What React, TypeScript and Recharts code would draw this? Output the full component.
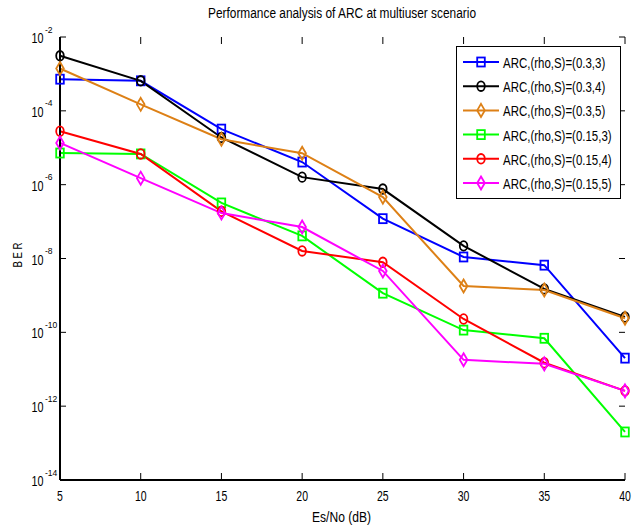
import React from 'react';
import { LineChart, Line, XAxis, YAxis, Legend } from 'recharts';

// ---------- data ----------
const snrDb = [5, 10, 15, 20, 25, 30, 35, 40];
const arc03_3 = [7.2e-4, 6.5e-4, 3.2e-5, 4.1e-6, 1.2e-7, 1.1e-8, 6.6e-9, 2.0e-11];
const arc03_4 = [3.1e-3, 6.5e-4, 1.9e-5, 1.6e-6, 7.6e-7, 2.2e-8, 1.5e-9, 2.6e-10];
const arc03_5 = [1.4e-3, 1.5e-4, 1.7e-5, 7.1e-6, 4.6e-7, 1.8e-9, 1.4e-9, 2.4e-10];
const arc015_3 = [7.2e-6, 6.8e-6, 3.2e-7, 4.1e-8, 1.15e-9, 1.15e-10, 6.9e-11, 2.0e-13];
const arc015_4 = [2.8e-5, 6.8e-6, 1.9e-7, 1.6e-8, 7.9e-9, 2.3e-10, 1.5e-11, 2.6e-12];
const arc015_5 = [1.35e-5, 1.5e-6, 1.7e-7, 7.1e-8, 4.6e-9, 1.8e-11, 1.4e-11, 2.6e-12];

const xTicks = [5, 10, 15, 20, 25, 30, 35, 40];
const yTicks = [1e-14, 1e-12, 1e-10, 1e-8, 1e-6, 1e-4, 1e-2];

const seriesNames = [
  'ARC,(rho,S)=(0.3,3)',
  'ARC,(rho,S)=(0.3,4)',
  'ARC,(rho,S)=(0.3,5)',
  'ARC,(rho,S)=(0.15,3)',
  'ARC,(rho,S)=(0.15,4)',
  'ARC,(rho,S)=(0.15,5)',
];
const titleText = 'Performance analysis of ARC at multiuser scenario';
const xLabel = 'Es/No (dB)';
const yLabel = 'B E R';

// ---------- styles ----------
const FONT = '"Liberation Sans", Arial, Helvetica, sans-serif';
const W = 634;
const H = 525;
const PLOT_TOP = 37;
const PLOT_BOTTOM = 480;
const PLOT_LEFT = 60;
const PLOT_RIGHT = 625;

type Shape = 'square' | 'circle' | 'diamond';
const series: { key: string; name: string; color: string; shape: Shape; values: number[] }[] = [
  { key: 's1', name: seriesNames[0], color: '#0000ff', shape: 'square', values: arc03_3 },
  { key: 's2', name: seriesNames[1], color: '#000000', shape: 'circle', values: arc03_4 },
  { key: 's3', name: seriesNames[2], color: '#dd8016', shape: 'diamond', values: arc03_5 },
  { key: 's4', name: seriesNames[3], color: '#00ff00', shape: 'square', values: arc015_3 },
  { key: 's5', name: seriesNames[4], color: '#ff0000', shape: 'circle', values: arc015_4 },
  { key: 's6', name: seriesNames[5], color: '#ff00ff', shape: 'diamond', values: arc015_5 },
];

const data = snrDb.map((x, i) => {
  const row: Record<string, number> = { x };
  series.forEach((s) => {
    row[s.key] = s.values[i];
  });
  return row;
});

function Marker({ cx, cy, shape, color }: { cx?: number; cy?: number; shape: Shape; color: string }) {
  if (cx == null || cy == null || isNaN(cx) || isNaN(cy)) return null;
  const sw = 1.8;
  if (shape === 'square') {
    return <rect x={cx - 3.8} y={cy - 4.5} width={7.6} height={9} fill="none" stroke={color} strokeWidth={sw} />;
  }
  if (shape === 'circle') {
    return <ellipse cx={cx} cy={cy} rx={3.8} ry={4.8} fill="none" stroke={color} strokeWidth={sw} />;
  }
  return (
    <polygon
      points={`${cx},${cy - 6.5} ${cx + 3.8},${cy} ${cx},${cy + 6.5} ${cx - 3.8},${cy}`}
      fill="none"
      stroke={color}
      strokeWidth={sw}
    />
  );
}

const XTick = (props: any) => {
  const { x, y, payload } = props;
  const label = String(payload.value);
  return (
    <g>
      <line x1={x} x2={x} y1={PLOT_BOTTOM} y2={PLOT_BOTTOM - 7} stroke="#000" strokeWidth={1} />
      <line x1={x} x2={x} y1={PLOT_TOP} y2={PLOT_TOP + 7} stroke="#000" strokeWidth={1} />
      <text
        transform={`translate(${x},${y + 21}) scale(0.7,1)`}
        textAnchor="middle"
        fontSize={15}
        fontFamily={FONT}
        fill="#000"
      >
        {label}
      </text>
    </g>
  );
};

const YTick = (props: any) => {
  const { x, y, payload } = props;
  const exp = String(Math.round(Math.log10(payload.value)));
  return (
    <g>
      <line x1={PLOT_LEFT} x2={PLOT_LEFT + 6} y1={y} y2={y} stroke="#000" strokeWidth={1} />
      <line x1={PLOT_RIGHT - 6} x2={PLOT_RIGHT} y1={y} y2={y} stroke="#000" strokeWidth={1} />
      <text
        transform={`translate(${x - 28.5},${y + 6}) scale(0.77,1)`}
        fontSize={14}
        fontFamily={FONT}
        fill="#000"
      >
        10
      </text>
      <text
        transform={`translate(${x - 15},${y - 4.5}) scale(0.95,1)`}
        fontSize={9}
        fontFamily={FONT}
        fill="#000"
      >
        {exp}
      </text>
    </g>
  );
};

const LegendContent = (props: any) => {
  const payload: any[] = props.payload || [];
  const rows = series.filter((s) => payload.length === 0 || payload.some((p) => p.dataKey === s.key));
  return (
    <svg width={170} height={153} style={{ display: 'block', overflow: 'visible' }}>
      <rect x={0.5} y={0.5} width={164} height={152} fill="#fff" stroke="#000" strokeWidth={1} />
      {rows.map((s, i) => {
        const cy = 16 + i * 24.2;
        return (
          <g key={s.key}>
            <line x1={7} x2={43} y1={cy} y2={cy} stroke={s.color} strokeWidth={2} />
            <Marker cx={25} cy={cy} shape={s.shape} color={s.color} />
            <text
              transform={`translate(47,${cy + 6}) scale(0.74,1)`}
              fontSize={15.5}
              fontFamily={FONT}
              fill="#000"
            >
              {s.name}
            </text>
          </g>
        );
      })}
    </svg>
  );
};

export default function App() {
  return (
    <div style={{ position: 'absolute', left: 0, top: 0, width: W, height: H, background: '#fff', overflow: 'hidden' }}>
      <LineChart
        width={W}
        height={H}
        data={data}
        margin={{ top: PLOT_TOP, right: W - PLOT_RIGHT, bottom: 0, left: 0 }}
      >
        <XAxis
          dataKey="x"
          type="number"
          domain={[5, 40]}
          ticks={xTicks}
          interval={0}
          height={H - PLOT_BOTTOM}
          tickSize={0}
          tickMargin={0}
          tickLine={false}
          tick={<XTick />}
          axisLine={{ stroke: '#000', strokeWidth: 2 }}
        />
        <XAxis
          xAxisId="top"
          orientation="top"
          type="number"
          domain={[5, 40]}
          height={0}
          tick={false}
          tickLine={false}
          axisLine={{ stroke: '#000', strokeWidth: 1.5 }}
        />
        <YAxis
          scale="log"
          type="number"
          domain={[1e-14, 1e-2]}
          allowDataOverflow
          ticks={yTicks}
          interval={0}
          width={PLOT_LEFT}
          tickSize={0}
          tickMargin={0}
          tickLine={false}
          tick={<YTick />}
          axisLine={{ stroke: '#000', strokeWidth: 2 }}
        />
        <YAxis
          yAxisId="right"
          orientation="right"
          type="number"
          domain={[0, 1]}
          width={0}
          tick={false}
          tickLine={false}
          axisLine={{ stroke: '#000', strokeWidth: 1.5 }}
        />
        <Legend
          layout="vertical"
          align="center"
          verticalAlign="middle"
          wrapperStyle={{ position: 'absolute', left: 456, top: 46, width: 170, height: 153, overflow: 'visible' }}
          content={<LegendContent />}
        />
        {series.map((s) => (
          <Line
            key={s.key}
            dataKey={s.key}
            name={s.name}
            stroke={s.color}
            strokeWidth={2}
            isAnimationActive={false}
            dot={(p: any) => (
              <Marker key={`${s.key}-${p.index}`} cx={p.cx} cy={p.cy} shape={s.shape} color={s.color} />
            )}
            activeDot={false}
          />
        ))}
      </LineChart>
      <svg
        width={W}
        height={H}
        style={{ position: 'absolute', left: 0, top: 0, pointerEvents: 'none' }}
      >
        <text
          x={342}
          y={18}
          textAnchor="middle"
          fontSize={14}
          fontFamily={FONT}
          fill="#000"
          textLength={268}
          lengthAdjust="spacingAndGlyphs"
        >
          {titleText}
        </text>
        <text
          x={341.5}
          y={522}
          textAnchor="middle"
          fontSize={14}
          fontFamily={FONT}
          fill="#000"
          textLength={59}
          lengthAdjust="spacingAndGlyphs"
        >
          {xLabel}
        </text>
        <text
          transform="translate(22,255) rotate(-90)"
          textAnchor="middle"
          fontSize={12}
          fontFamily={FONT}
          fill="#000"
          textLength={25}
          lengthAdjust="spacingAndGlyphs"
        >
          {yLabel}
        </text>
      </svg>
    </div>
  );
}
